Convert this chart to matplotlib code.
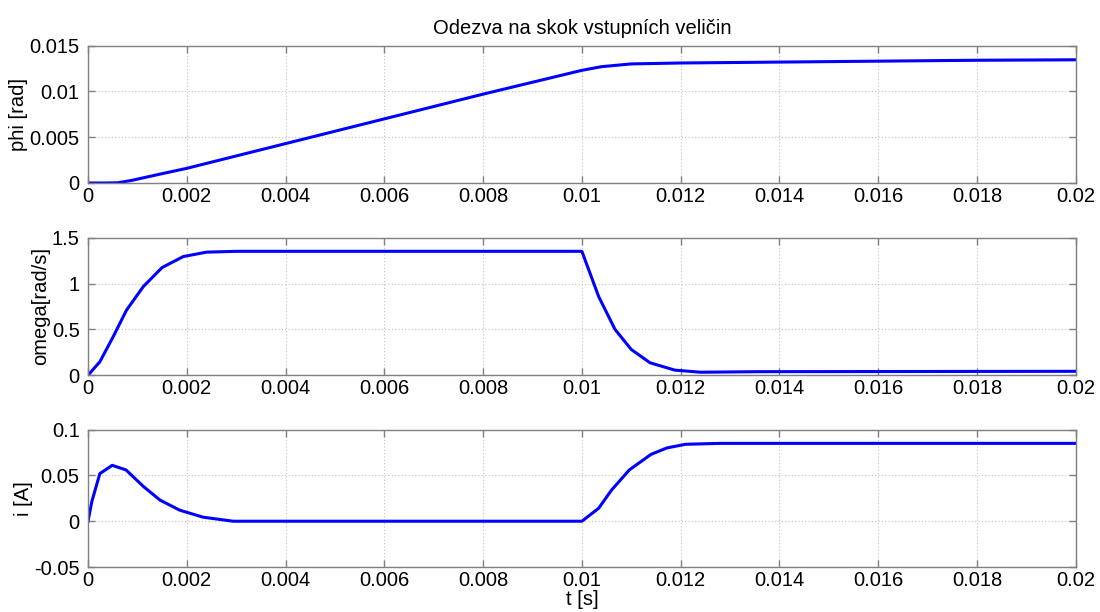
import numpy as np
import matplotlib
matplotlib.use('Agg')
import matplotlib.pyplot as plt

plt.rcParams['font.family'] = ['Liberation Sans', 'DejaVu Sans']

# ===== data
t_phi = [0, 0.0003, 0.0006, 0.0009, 0.0014, 0.002, 0.004, 0.006, 0.008, 0.01,
         0.0104, 0.011, 0.012, 0.014, 0.016, 0.018, 0.02]
phi = [0, 0, 0.00002, 0.0003, 0.0009, 0.0016, 0.0043, 0.0070, 0.0097, 0.0123,
       0.0127, 0.0130, 0.0131, 0.0132, 0.0133, 0.0134, 0.01345]

t_omega = [0, 0.00024, 0.00051, 0.00078, 0.00112, 0.0015, 0.00193, 0.0024, 0.003,
           0.01, 0.01034, 0.01067, 0.0110, 0.01138, 0.01188, 0.0124, 0.0136, 0.02]
omega = [0, 0.146, 0.42, 0.71, 0.967, 1.175, 1.295, 1.343, 1.352,
         1.352, 0.857, 0.50, 0.28, 0.135, 0.055, 0.032, 0.038, 0.042]

t_i = [0, 0.00008, 0.00024, 0.00049, 0.00077, 0.00112, 0.00146, 0.00186, 0.00233,
       0.00294, 0.01, 0.01034, 0.0106, 0.01096, 0.0114, 0.01172, 0.0121, 0.0128, 0.02]
cur = [0, 0.022, 0.052, 0.061, 0.056, 0.038, 0.023, 0.012, 0.0044,
       0.0, 0.0, 0.0142, 0.034, 0.056, 0.073, 0.080, 0.084, 0.085, 0.085]

panels = [
    (t_phi, phi, 'phi [rad]', (0, 0.015), [0, 0.005, 0.01, 0.015], ['0', '0.005', '0.01', '0.015']),
    (t_omega, omega, 'omega[rad/s]', (0, 1.5), [0, 0.5, 1, 1.5], ['0', '0.5', '1', '1.5']),
    (t_i, cur, 'i [A]', (-0.05, 0.1), [-0.05, 0, 0.05, 0.1], ['-0.05', '0', '0.05', '0.1']),
]
xticks = [0, 0.002, 0.004, 0.006, 0.008, 0.01, 0.012, 0.014, 0.016, 0.018, 0.02]
xlabels = ['0', '0.002', '0.004', '0.006', '0.008', '0.01', '0.012', '0.014', '0.016', '0.018', '0.02']

fig = plt.figure(figsize=(11, 6.12), dpi=100)
bottoms = [0.701, 0.387, 0.0735]
fs = 14.5

for k, (tx, y, ylab, ylim, yt, ytl) in enumerate(panels):
    ax = fig.add_axes([0.08, bottoms[k], 0.898, 0.2245])
    ax.plot(tx, y, color='#0000ff', lw=2.2)
    ax.set_xlim(0, 0.02)
    ax.set_ylim(*ylim)
    ax.set_xticks(xticks)
    ax.set_xticklabels(xlabels, fontsize=fs)
    ax.set_yticks(yt)
    ax.set_yticklabels(ytl, fontsize=fs)
    ax.set_ylabel(ylab, fontsize=fs, labelpad=1)
    ax.grid(True, color='#c0c0c0', linestyle=(0, (1, 2)), linewidth=0.8)
    ax.tick_params(direction='in', top=True, right=True, length=5, width=1,
                   color='#808080')
    ax.tick_params(axis='x', pad=3)
    ax.tick_params(axis='y', pad=6)
    for s in ax.spines.values():
        s.set_color('#808080')
        s.set_linewidth(1)
    if k == 0:
        ax.set_title('Odezva na skok vstupních veličin', fontsize=fs, pad=8)
    if k == 2:
        ax.set_xlabel('t [s]', fontsize=fs, labelpad=0)

fig.savefig('out.png', dpi=100)
